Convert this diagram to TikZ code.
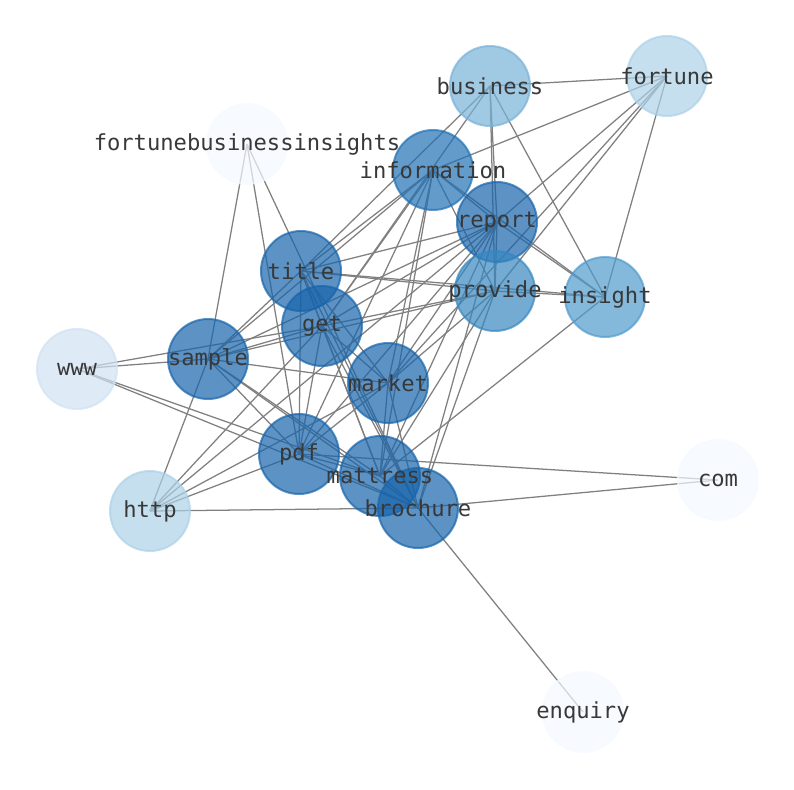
\documentclass[tikz,border=0pt]{standalone}
\usepackage{fontspec}
\newfontfamily\wordfont{DejaVu Sans Mono}
\pgfdeclarelayer{edges}
\pgfsetlayers{edges,main}

\definecolor{deep}{RGB}{23,100,171}
\definecolor{infoblue}{RGB}{33,113,181}
\definecolor{midblue}{RGB}{55,135,192}
\definecolor{softblue}{RGB}{80,155,205}
\definecolor{paleblue}{RGB}{120,178,216}
\definecolor{mistblue}{RGB}{172,209,232}
\definecolor{iceblue}{RGB}{208,225,242}
\definecolor{snowblue}{RGB}{244,249,255}

\tikzset{
  word/.style={circle, minimum size=60pt, inner sep=0pt, line width=1.5pt,
    fill opacity=0.7, draw opacity=0.7, fill=#1, draw=#1},
  link/.style={draw=gray, line width=0.95pt},
  tag/.style={font=\wordfont\fontsize{16.6}{18}\selectfont, text=black!78, inner sep=0pt}
}

\begin{document}
\begin{tikzpicture}[x=0.75pt, y=-0.75pt]
  \useasboundingbox (0,0) rectangle (794,790);

  % words
  \node[word=paleblue] (business) at (490,86) {};
  \node[word=mistblue] (fortune) at (667,76) {};
  \node[word=snowblue] (fortunebusinessinsights) at (247,144) {};
  \node[word=infoblue] (information) at (433,170) {};
  \node[word=deep] (report) at (497,222) {};
  \node[word=deep] (title) at (301,271) {};
  \node[word=midblue] (provide) at (495,291) {};
  \node[word=softblue] (insight) at (605,297) {};
  \node[word=deep] (get) at (322,326) {};
  \node[word=deep] (sample) at (208,359) {};
  \node[word=iceblue] (www) at (77,369) {};
  \node[word=deep] (market) at (388,383) {};
  \node[word=deep] (pdf) at (299,454) {};
  \node[word=deep] (mattress) at (380,476) {};
  \node[word=deep] (brochure) at (418,508) {};
  \node[word=mistblue] (http) at (150,511) {};
  \node[word=snowblue] (com) at (718,480) {};
  \node[word=snowblue] (enquiry) at (583,712) {};

  % links
  \begin{pgfonlayer}{edges}
    \foreach \a/\b in {business/fortune, business/title, business/get, business/report,
        business/provide, business/insight,
        fortune/information, fortune/report, fortune/provide, fortune/insight, fortune/market,
        fortunebusinessinsights/sample, fortunebusinessinsights/pdf,
        fortunebusinessinsights/brochure,
        information/title, information/get, information/report, information/provide,
        information/insight, information/market, information/mattress, information/sample,
        information/pdf,
        report/title, report/get, report/sample, report/provide, report/insight,
        report/market, report/mattress, report/brochure, report/http, report/pdf,
        title/provide, title/insight, title/get, title/sample, title/market, title/pdf,
        title/mattress, title/brochure,
        provide/insight, provide/get, provide/sample, provide/market, provide/mattress,
        provide/brochure,
        insight/mattress,
        get/www, get/sample, get/http, get/market, get/pdf, get/mattress, get/brochure,
        sample/www, sample/http, sample/market, sample/pdf, sample/mattress, sample/brochure,
        www/mattress, www/brochure,
        market/http, market/pdf, market/mattress, market/brochure,
        pdf/http, pdf/mattress, pdf/brochure, pdf/com,
        mattress/brochure,
        brochure/http, brochure/com, brochure/enquiry}
      \draw[link] (\a.center) -- (\b.center);
  \end{pgfonlayer}

  % labels on top
  \foreach \w in {business, fortune, fortunebusinessinsights, information, report, title,
      provide, insight, get, sample, www, market, pdf, mattress, brochure, http, com, enquiry}
    \node[tag] (\w-tag) at (\w.center) {\w};
\end{tikzpicture}
\end{document}
